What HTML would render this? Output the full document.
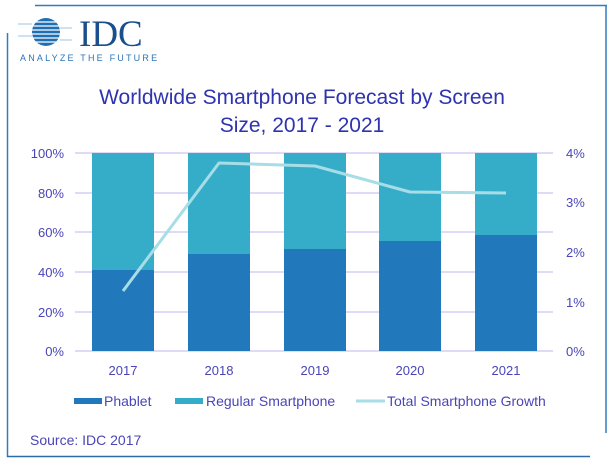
<!DOCTYPE html>
<html><head><meta charset="utf-8"><style>
html,body{margin:0;padding:0;background:#fff;width:615px;height:465px;overflow:hidden}
svg{display:block}
text{font-family:"Liberation Sans",sans-serif}
</style></head><body>
<svg width="615" height="465" viewBox="0 0 615 465" xmlns="http://www.w3.org/2000/svg">
<line x1="35" y1="5.5" x2="607" y2="5.5" stroke="#2d7dc4" stroke-width="1.5"/>
<line x1="606" y1="5" x2="606" y2="433" stroke="#2d7dc4" stroke-width="1.5"/>
<line x1="7.5" y1="33" x2="7.5" y2="457" stroke="#2d7dc4" stroke-width="1.5"/>
<line x1="7" y1="456.5" x2="590" y2="456.5" stroke="#2d6aa8" stroke-width="1.5"/>
<g>
<circle cx="46" cy="32" r="14" fill="#1f6fb5"/>
<g stroke="#fff" stroke-width="1.3">
<line x1="18" y1="22" x2="76" y2="22"/><line x1="18" y1="26" x2="76" y2="26"/>
<line x1="18" y1="30" x2="76" y2="30"/><line x1="18" y1="34" x2="76" y2="34"/>
<line x1="18" y1="38" x2="76" y2="38"/><line x1="18" y1="42" x2="76" y2="42"/>
</g>
<g stroke="#9cc6e8" stroke-width="1"><line x1="18" y1="24" x2="32" y2="24"/><line x1="60" y1="28" x2="72" y2="28"/><line x1="18" y1="36" x2="32" y2="36"/><line x1="60" y1="40" x2="72" y2="40"/></g>
<text x="79" y="46" font-size="37" fill="#1a4f8c" style="font-family:'Liberation Serif',serif">IDC</text>
<text x="20" y="61" font-size="9" fill="#2a74b8" letter-spacing="2.2">ANALYZE THE FUTURE</text>
</g>
<text x="302" y="104" font-size="21" fill="#2e33b0" text-anchor="middle">Worldwide Smartphone Forecast by Screen</text>
<text x="302" y="132" font-size="21" fill="#2e33b0" text-anchor="middle">Size, 2017 - 2021</text>
<g stroke="#c9c4f2" stroke-width="1.3">
<line x1="75" y1="153" x2="553" y2="153"/><line x1="75" y1="193" x2="553" y2="193"/>
<line x1="75" y1="232" x2="553" y2="232"/><line x1="75" y1="272" x2="553" y2="272"/>
<line x1="75" y1="312" x2="553" y2="312"/><line x1="75" y1="351" x2="553" y2="351"/>
</g>
<g fill="#36adc8">
<rect x="92" y="153" width="62" height="198"/><rect x="188" y="153" width="62" height="198"/>
<rect x="284" y="153" width="62" height="198"/><rect x="379" y="153" width="62" height="198"/>
<rect x="475" y="153" width="62" height="198"/>
</g>
<g fill="#2179bb">
<rect x="92" y="270" width="62" height="81"/><rect x="188" y="254" width="62" height="97"/>
<rect x="284" y="249" width="62" height="102"/><rect x="379" y="241" width="62" height="110"/>
<rect x="475" y="235" width="62" height="116"/>
</g>
<polyline points="123,291 219,163 315,166 410,192 506,193" fill="none" stroke="#a6dde6" stroke-width="3" stroke-linejoin="round"/>
<g font-size="13" fill="#4a45b8" text-anchor="end">
<text x="64" y="158">100%</text><text x="64" y="198">80%</text><text x="64" y="237">60%</text>
<text x="64" y="277">40%</text><text x="64" y="317">20%</text><text x="64" y="356">0%</text>
</g>
<g font-size="13" fill="#4a45b8">
<text x="566" y="158">4%</text><text x="566" y="207">3%</text><text x="566" y="257">2%</text>
<text x="566" y="307">1%</text><text x="566" y="356">0%</text>
</g>
<g font-size="13" fill="#4a45b8" text-anchor="middle">
<text x="123" y="375">2017</text><text x="219" y="375">2018</text><text x="315" y="375">2019</text>
<text x="410" y="375">2020</text><text x="506" y="375">2021</text>
</g>
<rect x="74" y="398" width="28" height="6" fill="#2179bb"/>
<text x="104" y="406" font-size="14" fill="#4a45b8">Phablet</text>
<rect x="175" y="398" width="28" height="6" fill="#36adc8"/>
<text x="206" y="406" font-size="14" fill="#4a45b8">Regular Smartphone</text>
<line x1="356" y1="401" x2="385" y2="401" stroke="#a6dde6" stroke-width="3"/>
<text x="387" y="406" font-size="14" fill="#4a45b8">Total Smartphone Growth</text>
<text x="30" y="445" font-size="14" fill="#4a45b8">Source: IDC 2017</text>
</svg>
</body></html>
